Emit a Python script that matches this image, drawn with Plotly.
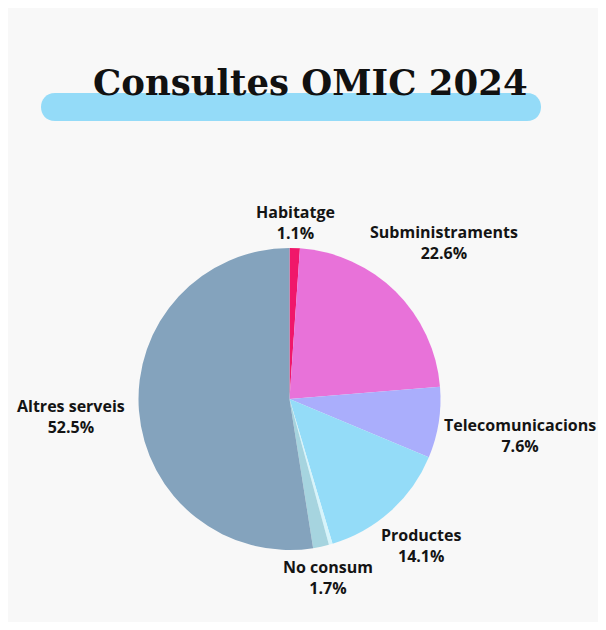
import math
import plotly.graph_objects as go

W, H = 590, 614

categories = ["Habitatge", "Subministraments", "Telecomunicacions", "Productes", "", "No consum", "Altres serveis"]
values = [1.1, 22.6, 7.6, 14.1, 0.4, 1.7, 52.5]
colors = ["#f0176a", "#e872d9", "#aaaefc", "#94dcf8", "#d6f4fb", "#a6d4df", "#84a3bd"]
title_text = "Consultes OMIC 2024"

cx, cy, r = 281.5, 391, 151

fig = go.Figure(go.Pie(
    labels=[c if c else " " for c in categories],
    values=values,
    textinfo="none",
    sort=False,
    direction="clockwise",
    rotation=0,
    marker=dict(colors=colors, line=dict(width=0)),
    domain=dict(x=[(cx - r) / W, (cx + r) / W], y=[1 - (cy + r) / H, 1 - (cy - r) / H]),
    showlegend=False,
    hoverinfo="label+value",
))

# outside labels placed along each slice's mid angle
total = sum(values)
cum = 0.0
for c, v in zip(categories, values):
    theta = (cum + v / 2) / total * 2 * math.pi
    cum += v
    if not c:
        continue
    s, co = math.sin(theta), math.cos(theta)
    w_est = 8.9 * len(c)
    h_est = 38
    d = r + 5 + (w_est / 2) * abs(s) + (h_est / 2) * abs(co)
    sx, sy = cx + d * s, cy - d * co
    fig.add_annotation(text=f"{c}<br>{v:.1f}%", xref="paper", yref="paper",
                       x=sx / W, y=1 - sy / H, xanchor="center", yanchor="middle",
                       showarrow=False, align="center",
                       font=dict(family="Open Sans", size=16, color="#141414", weight="bold"))

# pill shape behind title
px, py = 283 / W, 1 - 99 / H
hw, hh = 236, 14
k = hh * 4 / 3
path = (f"M {-hw},{-hh} L {hw},{-hh} C {hw + k},{-hh} {hw + k},{hh} {hw},{hh} "
        f"L {-hw},{hh} C {-hw - k},{hh} {-hw - k},{-hh} {-hw},{-hh} Z")
fig.add_shape(type="path", xref="paper", yref="paper", xsizemode="pixel", ysizemode="pixel",
              xanchor=px, yanchor=py, path=path, fillcolor="#94dbf8", line=dict(width=0),
              layer="below")

fig.add_annotation(text=title_text, xref="paper", yref="paper", x=302.5 / W, y=1 - 74.5 / H,
                   xanchor="center", yanchor="middle", showarrow=False,
                   font=dict(family="DejaVu Serif", size=35.5, color="#111111", weight="bold"))

fig.update_layout(
    width=W, height=H,
    margin=dict(l=0, r=0, t=0, b=0),
    paper_bgcolor="#f8f8f8",
    plot_bgcolor="#f8f8f8",
)

fig.write_html("out.html")
